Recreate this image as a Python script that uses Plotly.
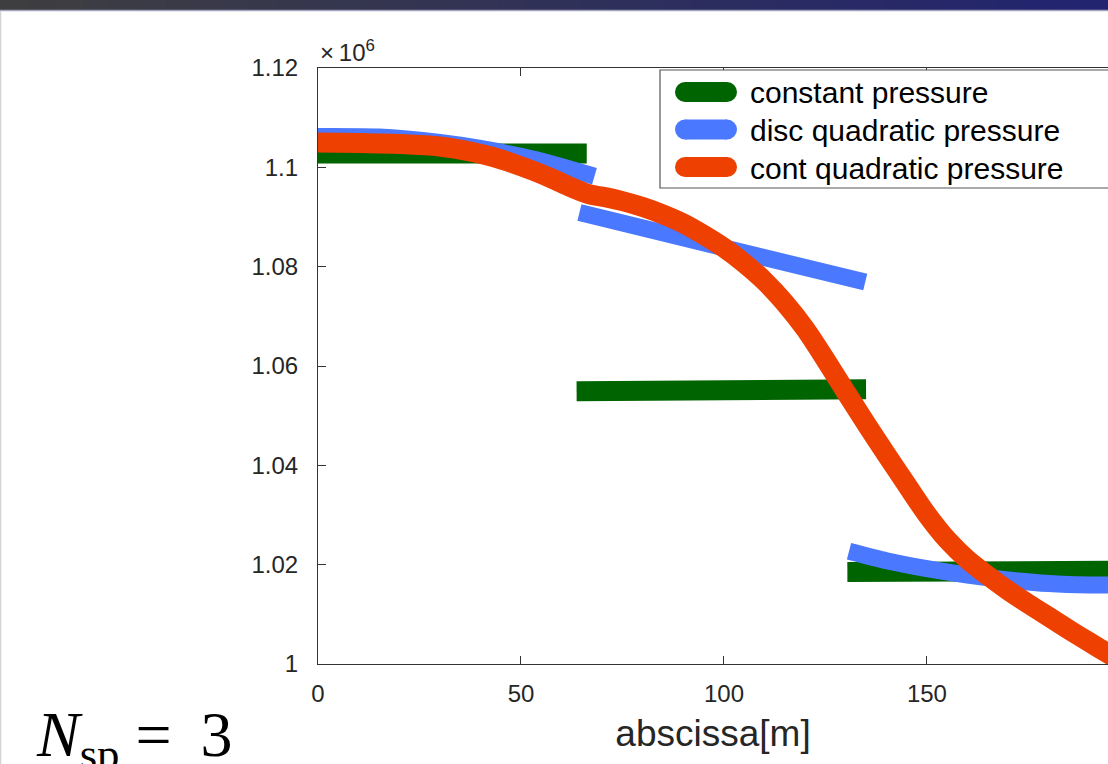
import plotly.graph_objects as go

# ---------------- data (pressure in units of 10^6 Pa) ----------------
green_x1 = [0.0, 66.2]
green_y1 = [1.1028, 1.1028]
green_x2 = [63.7, 135.0]
green_y2 = [1.0549, 1.0553]
green_x3 = [130.4, 200.0]
green_y3 = [1.0185, 1.0188]

blue_x1 = [0, 15, 30, 40, 50, 58, 64, 68.1]
blue_y1 = [1.1062, 1.1061, 1.1050, 1.1038, 1.1022, 1.1006, 1.0992, 1.0982]
blue_x2 = [64.4, 100.0, 134.8]
blue_y2 = [1.0909, 1.0838, 1.0769]
blue_x3 = [130.8, 140, 150, 160, 170, 180, 190, 200]
blue_y3 = [1.0227, 1.0208, 1.0192, 1.0179, 1.0169, 1.0162, 1.0159, 1.0159]

red_x = [0, 10, 20, 30, 38, 43, 48, 53, 58, 62, 66.7, 70, 75, 80, 85, 90, 95,
         100, 105, 110, 115, 120, 125, 130, 135, 140, 145, 150, 155, 160, 165,
         170, 175, 180, 185, 190, 195, 200]
red_y = [1.1050, 1.1049, 1.1047, 1.1042, 1.1031, 1.1021, 1.1008, 1.0993, 1.0976,
         1.0961, 1.0946, 1.0941, 1.0932, 1.0920, 1.0905, 1.0887, 1.0864,
         1.0838, 1.0807, 1.0771, 1.0727, 1.0675, 1.0613, 1.0548, 1.0484, 1.0422,
         1.0361, 1.0301, 1.0250, 1.0210, 1.0178, 1.0148, 1.0121, 1.0095, 1.0069,
         1.0044, 1.0019, 0.9995]

series_names = ["constant pressure", "disc quadratic pressure", "cont quadratic pressure"]
series_colors = ["#006400", "#4a78ff", "#ee4000"]

x_tick_vals = [0, 50, 100, 150]
x_tick_text = ["0", "50", "100", "150"]
y_tick_vals = [1.00, 1.02, 1.04, 1.06, 1.08, 1.10, 1.12]
y_tick_text = ["1", "1.02", "1.04", "1.06", "1.08", "1.1", "1.12"]

X_MAX = 194.6
Y_RANGE = [1.0, 1.12]

# ---------------- layout geometry ----------------
W, H = 1108, 764
ML, MR, MT, MB = 318, 0, 68, 100
PW, PH = W - ML - MR, H - MT - MB

SANS = "Liberation Sans, Arial, Helvetica, sans-serif"
SERIF = "Liberation Serif, Times New Roman, serif"


def px(p):
    return (p - ML) / PW


def py(q):
    return (H - MB - q) / PH


def joined(xs_list, ys_list):
    X, Y = [], []
    for xs, ys in zip(xs_list, ys_list):
        if X:
            X.append(None)
            Y.append(None)
        X += list(xs)
        Y += list(ys)
    return X, Y


fig = go.Figure()

gx, gy = joined([green_x1, green_x2, green_x3], [green_y1, green_y2, green_y3])
bx, by = joined([blue_x1, blue_x2, blue_x3], [blue_y1, blue_y2, blue_y3])

fig.add_trace(go.Scatter(x=gx, y=gy, mode="lines", name=series_names[0],
                         line=dict(color=series_colors[0], width=20), showlegend=False))
fig.add_trace(go.Scatter(x=bx, y=by, mode="lines", name=series_names[1],
                         line=dict(color=series_colors[1], width=17, shape="spline", smoothing=0.6),
                         showlegend=False))
fig.add_trace(go.Scatter(x=red_x, y=red_y, mode="lines", name=series_names[2],
                         line=dict(color=series_colors[2], width=20, shape="spline", smoothing=0.8),
                         showlegend=False))

shapes = []
annotations = []

# slide header bar (stepped gradient)
n_strips = 40
c0 = (62, 62, 64)
c1 = (34, 36, 112)
for i in range(n_strips):
    t = i / (n_strips - 1)
    c = tuple(int(round(c0[k] + (c1[k] - c0[k]) * t)) for k in range(3))
    shapes.append(dict(type="rect", xref="paper", yref="paper",
                       x0=px(W * i / n_strips), x1=px(W * (i + 1) / n_strips + 1),
                       y0=py(10), y1=py(0), line=dict(width=0),
                       fillcolor="rgb(%d,%d,%d)" % c, layer="above"))
shapes.append(dict(type="line", xref="paper", yref="paper", x0=px(0), x1=px(W),
                   y0=py(10.5), y1=py(10.5), line=dict(color="#a4a4c0", width=1.5)))
shapes.append(dict(type="line", xref="paper", yref="paper", x0=px(0.5), x1=px(0.5),
                   y0=py(11), y1=py(H), line=dict(color="#d4d4d4", width=1.5)))

# legend box (drawn manually, cut by the right edge as in the slide)
LEG_L, LEG_T, LEG_B = 660, 70, 188
shapes.append(dict(type="rect", xref="paper", yref="paper",
                   x0=px(LEG_L), x1=px(W + 20), y0=py(LEG_B), y1=py(LEG_T),
                   line=dict(color="#555555", width=1.2), fillcolor="white", layer="above"))
row_y = [92, 129.5, 167]
for name, col, ry in zip(series_names, series_colors, row_y):
    shapes.append(dict(type="line", xref="paper", yref="paper",
                       x0=px(685), x1=px(727), y0=py(ry), y1=py(ry),
                       line=dict(color=col, width=20), layer="above"))
    for cx in (685, 727):
        shapes.append(dict(type="circle", xref="paper", yref="paper",
                           xsizemode="pixel", ysizemode="pixel",
                           xanchor=px(cx), yanchor=py(ry),
                           x0=-10, x1=10, y0=-10, y1=10,
                           line=dict(width=0), fillcolor=col, layer="above"))
    annotations.append(dict(xref="paper", yref="paper", x=px(748), y=py(ry + 1),
                            xanchor="left", yanchor="middle", showarrow=False,
                            text=name, font=dict(family=SANS, size=30, color="black")))

# exponent label
annotations.append(dict(xref="paper", yref="paper", x=px(318), y=1.0,
                        xanchor="left", yanchor="bottom", showarrow=False,
                        text="×\u200910<sup>6</sup>",
                        font=dict(family=SANS, size=24, color="#262626")))

# slide caption
annotations.append(dict(xref="paper", yref="paper", x=px(34), y=py(739),
                        xanchor="left", yanchor="middle", showarrow=False,
                        text="<i>N</i><sub>sp</sub> = \u20093",
                        font=dict(family=SERIF, size=64, color="black")))

axis_common = dict(showgrid=False, zeroline=False, showline=True, linecolor="#333333",
                   linewidth=1.2, ticks="inside", ticklen=8, tickwidth=1.2,
                   tickcolor="#333333",
                   tickfont=dict(family=SANS, size=24, color="#262626"))

fig.update_layout(
    width=W, height=H,
    margin=dict(l=ML, r=MR, t=MT, b=MB, autoexpand=False),
    paper_bgcolor="white", plot_bgcolor="white",
    showlegend=False,
    xaxis=dict(range=[0, X_MAX], tickvals=x_tick_vals, ticktext=x_tick_text,
               mirror="ticks", ticklabelstandoff=8,
               title=dict(text="abscissa[m]", standoff=14,
                          font=dict(family=SANS, size=37, color="#262626")),
               **axis_common),
    yaxis=dict(range=Y_RANGE, tickvals=y_tick_vals, ticktext=y_tick_text,
               mirror=False, ticklabelstandoff=14, **axis_common),
    shapes=shapes,
    annotations=annotations,
)

fig.write_html("out.html",
               config={"displayModeBar": False},
               post_script="document.body.style.margin='0';"
                           "document.body.style.overflow='hidden';")
